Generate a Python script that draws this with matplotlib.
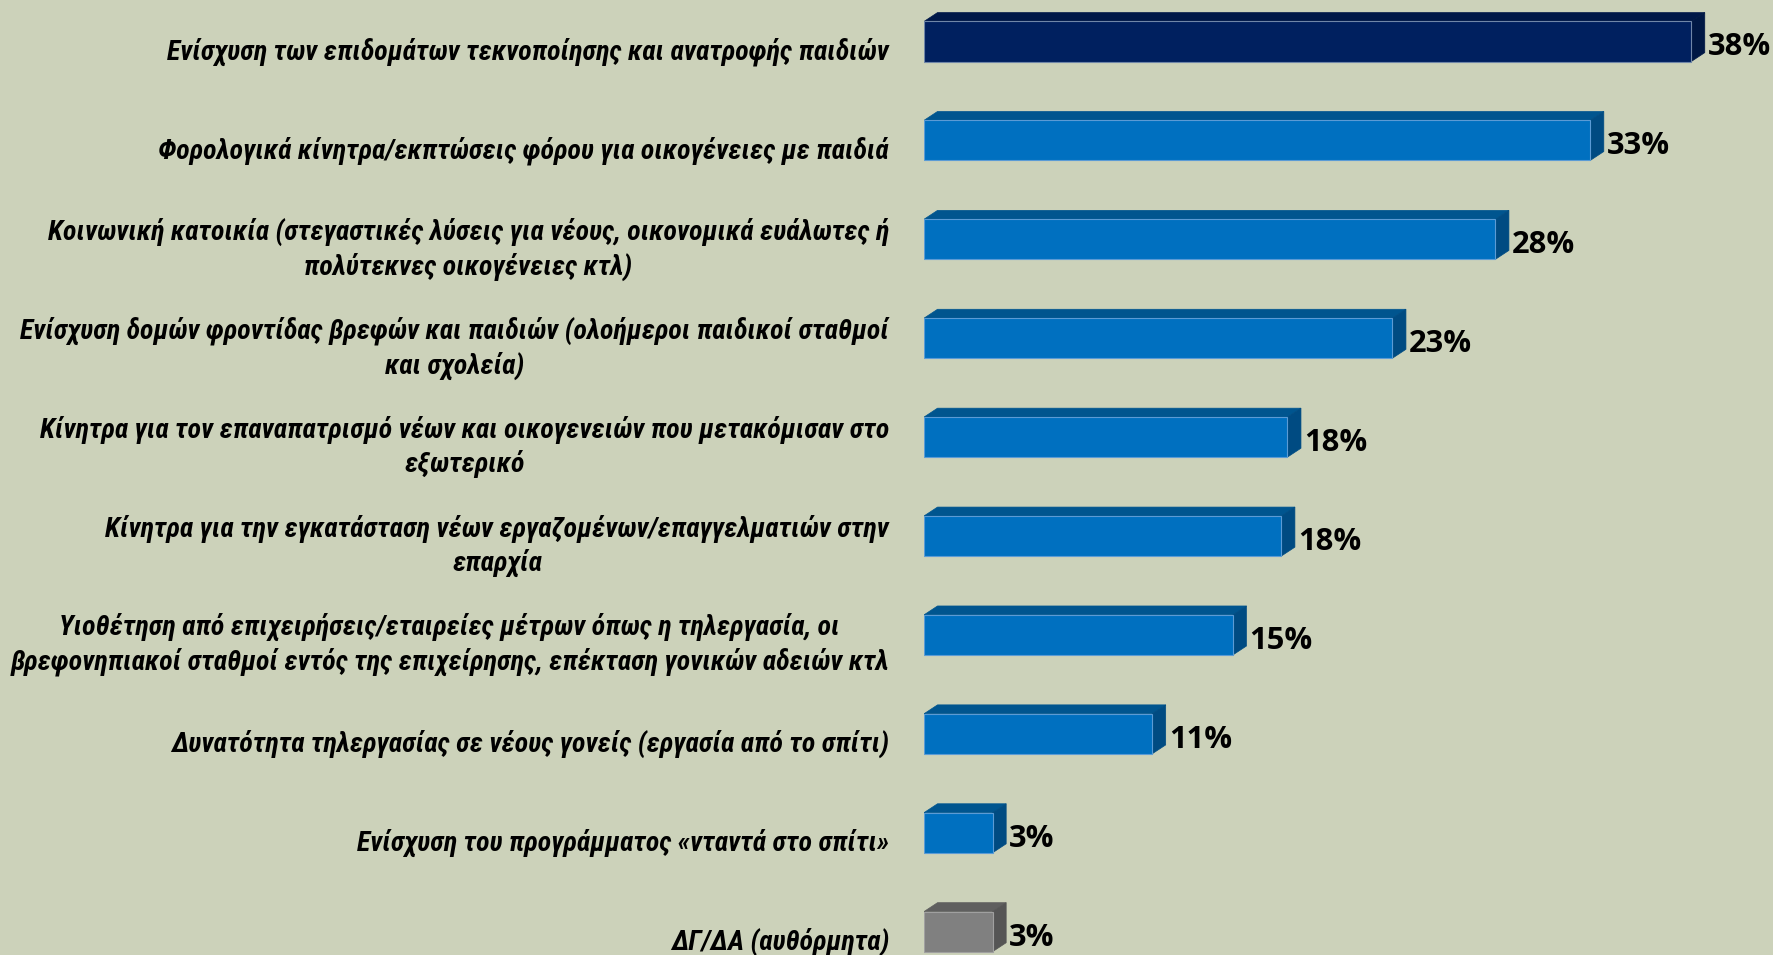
import matplotlib
matplotlib.use("Agg")
import matplotlib.pyplot as plt
from matplotlib.patches import Polygon
from matplotlib import font_manager

# ---- data ----
categories = [
    "Ενίσχυση των επιδομάτων τεκνοποίησης και ανατροφής παιδιών",
    "Φορολογικά κίνητρα/εκπτώσεις φόρου για οικογένειες με παιδιά",
    "Κοινωνική κατοικία (στεγαστικές λύσεις για νέους, οικονομικά ευάλωτες ή\nπολύτεκνες οικογένειες κτλ)",
    "Ενίσχυση δομών φροντίδας βρεφών και παιδιών (ολοήμεροι παιδικοί σταθμοί\nκαι σχολεία)",
    "Κίνητρα για τον επαναπατρισμό νέων και οικογενειών που μετακόμισαν στο\nεξωτερικό",
    "Κίνητρα για την εγκατάσταση νέων εργαζομένων/επαγγελματιών στην\nεπαρχία",
    "Υιοθέτηση από επιχειρήσεις/εταιρείες μέτρων όπως η τηλεργασία, οι\nβρεφονηπιακοί σταθμοί εντός της επιχείρησης, επέκταση γονικών αδειών κτλ",
    "Δυνατότητα τηλεργασίας σε νέους γονείς (εργασία από το σπίτι)",
    "Ενίσχυση του προγράμματος «νταντά στο σπίτι»",
    "ΔΓ/ΔΑ (αυθόρμητα)",
]
values = [38.0, 33.0, 28.3, 23.2, 18.0, 17.7, 15.3, 11.3, 3.4, 3.4]
labels = ["38%", "33%", "28%", "23%", "18%", "18%", "15%", "11%", "3%", "3%"]
kinds = ["top", "blue", "blue", "blue", "blue", "blue", "blue", "blue", "blue", "dk"]

# ---- style ----
BG = "#CCD2BA"
palette = {
    "top": ("#00205F", "#001848", "#001844", "#6F86A8"),
    "blue": ("#0070C0", "#00558F", "#004B82", "#5B9BD5"),
    "dk": ("#808080", "#5F5F5F", "#555555", "#A0A0A0"),
}
available = {f.name for f in font_manager.fontManager.ttflist}


def pick(cands):
    for cand in cands:
        if cand in available:
            return [cand, "DejaVu Sans"]
    return ["DejaVu Sans"]


FONT = pick(["Liberation Sans Narrow", "DejaVu Sans Condensed", "Roboto Condensed",
             "Open Sans Condensed", "Lato", "Roboto", "Open Sans"])
VFONT = pick(["Open Sans", "Roboto", "Lato"])

W, H = 1774, 955
fig = plt.figure(figsize=(W / 100, H / 100), dpi=100, facecolor=BG)

ax_left = 924 / W
ax_w = 848 / W
ax = fig.add_axes([ax_left, 0, ax_w, 1])
ax.set_facecolor(BG)
ax.set_xlim(0, 42)
step = 98.9
first = 41.5
ax.set_ylim((H - first) / step, -first / step)
ax.axis("off")

# size fonts to match the reference text widths
renderer = fig.canvas.get_renderer()
probe = fig.text(0, 0, categories[0], fontsize=20, fontweight="bold",
                 fontstyle="italic", family=FONT)
wpx = probe.get_window_extent(renderer).width
probe.remove()
CAT_FS = 20 * 723 / wpx
probe = fig.text(0, 0, "38%", fontsize=24, fontweight="bold", family=VFONT)
wpx = probe.get_window_extent(renderer).width
probe.remove()
VAL_FS = min(27, 24 * 63 / wpx)

bh = 0.405   # front face height (category units)
dx = 0.67    # depth in x (percent units)
dy = 0.09    # depth in y (category units)

for i, (v, k) in enumerate(zip(values, kinds)):
    front, top, side, edge = palette[k]
    y0 = i - bh / 2
    y1 = i + bh / 2
    ax.barh(i, v, height=bh, color=front, edgecolor=edge, linewidth=0.8, zorder=3)
    ax.add_patch(Polygon([(0, y0), (dx, y0 - dy), (v + dx, y0 - dy), (v, y0)],
                         closed=True, facecolor=top, edgecolor=top, linewidth=0.5, zorder=2))
    ax.add_patch(Polygon([(v, y0), (v + dx, y0 - dy), (v + dx, y1 - dy), (v, y1)],
                         closed=True, facecolor=side, edgecolor=side, linewidth=0.5, zorder=2))
    ax.text(v + dx + 0.15, i + 0.06, labels[i], ha="left", va="center",
            fontsize=VAL_FS, fontweight="bold", family=VFONT, color="black", zorder=4)

    ax.text(-35 / 848 * 42, i + 0.1, categories[i], ha="right", va="center",
            multialignment="center", fontsize=CAT_FS, fontweight="bold", fontstyle="italic",
            family=FONT, color="black", linespacing=1.3, clip_on=False)

fig.savefig("out.png", dpi=100, facecolor=BG)
